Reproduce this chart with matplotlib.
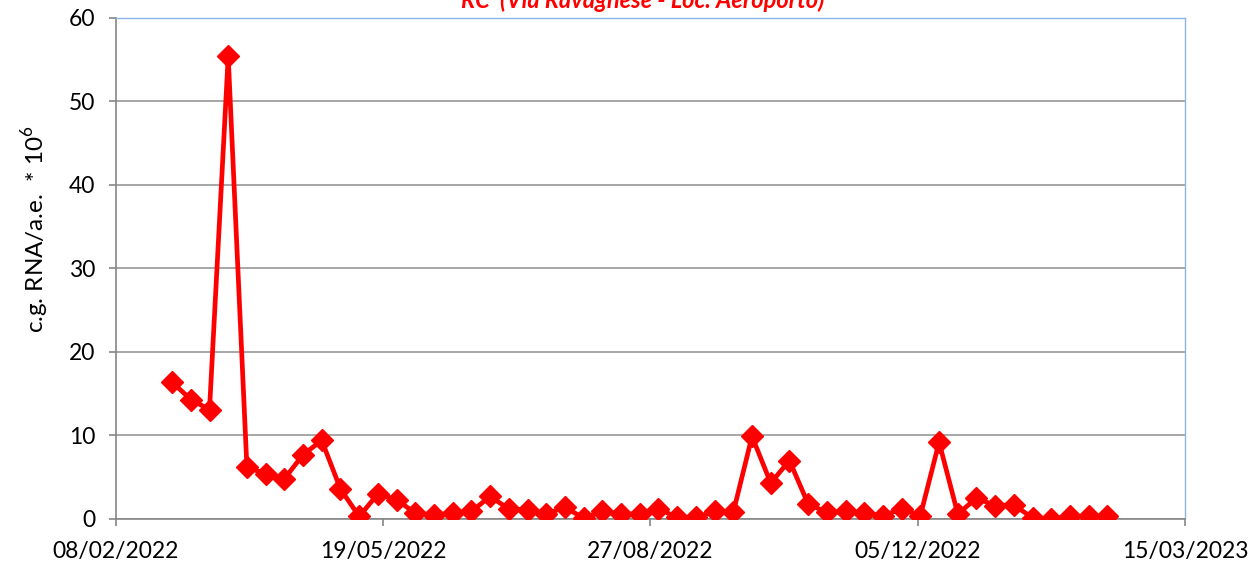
import matplotlib
matplotlib.use("Agg")
import matplotlib.pyplot as plt
import matplotlib.dates as mdates
import pandas as pd

# campionamenti settimanali (date)
dates = [
    "2022-03-01", "2022-03-08", "2022-03-15", "2022-03-22", "2022-03-29",
    "2022-04-05", "2022-04-12", "2022-04-19", "2022-04-26", "2022-05-03",
    "2022-05-10", "2022-05-17", "2022-05-24", "2022-05-31", "2022-06-07",
    "2022-06-14", "2022-06-21", "2022-06-28", "2022-07-05", "2022-07-12",
    "2022-07-19", "2022-07-26", "2022-08-02", "2022-08-09", "2022-08-16",
    "2022-08-23", "2022-08-30", "2022-09-06", "2022-09-13", "2022-09-20",
    "2022-09-27", "2022-10-04", "2022-10-11", "2022-10-18", "2022-10-25",
    "2022-11-01", "2022-11-08", "2022-11-15", "2022-11-22", "2022-11-29",
    "2022-12-06", "2022-12-13", "2022-12-20", "2022-12-27", "2023-01-03",
    "2023-01-10", "2023-01-17", "2023-01-24", "2023-01-31", "2023-02-07",
    "2023-02-14",
]
values = [
    16.4, 14.3, 13.1, 55.4, 6.2,
    5.4, 4.8, 7.7, 9.4, 3.6,
    0.3, 3.0, 2.3, 0.7, 0.5,
    0.7, 0.9, 2.7, 1.2, 1.1,
    0.6, 1.4, 0.1, 0.9, 0.6,
    0.6, 1.2, 0.2, 0.2, 0.9,
    0.8, 9.9, 4.3, 7.0, 1.8,
    0.8, 0.9, 0.7, 0.4, 1.2,
    0.4, 9.2, 0.6, 2.5, 1.6,
    1.7, 0.1, 0.0, 0.3, 0.3,
    0.3,
]
x_ticks = ["2022-02-08", "2022-05-19", "2022-08-27", "2022-12-05", "2023-03-15"]
y_ticks = [0, 10, 20, 30, 40, 50, 60]

title = "RC  (Via Ravagnese - Loc. Aeroporto)"
ylabel = "c.g. RNA/a.e.  * 10$^6$"

plt.rcParams['font.family'] = ['Lato', 'DejaVu Sans']
plt.rcParams['mathtext.fontset'] = 'custom'
plt.rcParams['mathtext.rm'] = 'Lato'

x = pd.to_datetime(dates)
xt = pd.to_datetime(x_ticks)

fig = plt.figure(figsize=(12.51, 5.67), dpi=100)
ax = fig.add_axes([0.0927, 0.0847, 0.8545, 0.8836])

ax.plot(x, values, color='#FF0000', lw=3.4, marker='D', markersize=11,
        markeredgecolor='#FF0000', zorder=3)

ax.set_xlim(xt[0], xt[-1])
ax.set_ylim(0, 60)
ax.set_xticks(xt)
ax.xaxis.set_major_formatter(mdates.DateFormatter('%d/%m/%Y'))
ax.set_yticks(y_ticks)

ax.grid(axis='y', color='#A6A6A6', lw=1.4)
ax.set_axisbelow(True)

for side in ['left', 'bottom']:
    ax.spines[side].set_color('#868686')
    ax.spines[side].set_linewidth(1.2)
for side in ['top', 'right']:
    ax.spines[side].set_color('#8EB4E3')
    ax.spines[side].set_linewidth(1.0)

ax.tick_params(axis='both', direction='out', length=5, width=1.2,
               color='#868686', labelsize=16.5, labelcolor='black')
ax.tick_params(axis='x', pad=11)
ax.tick_params(axis='y', pad=10)

# etichetta asse y leggermente più in alto del centro, come nell'originale
ax.set_ylabel(ylabel, fontsize=17.5)
ax.yaxis.set_label_coords(-0.061, 0.579)

fig.text(0.514, 1 - 8 / 567, title, ha='center', va='baseline',
         color='#FF0000', fontsize=17, fontweight='bold', fontstyle='italic')

fig.savefig('out.png', dpi=100)
